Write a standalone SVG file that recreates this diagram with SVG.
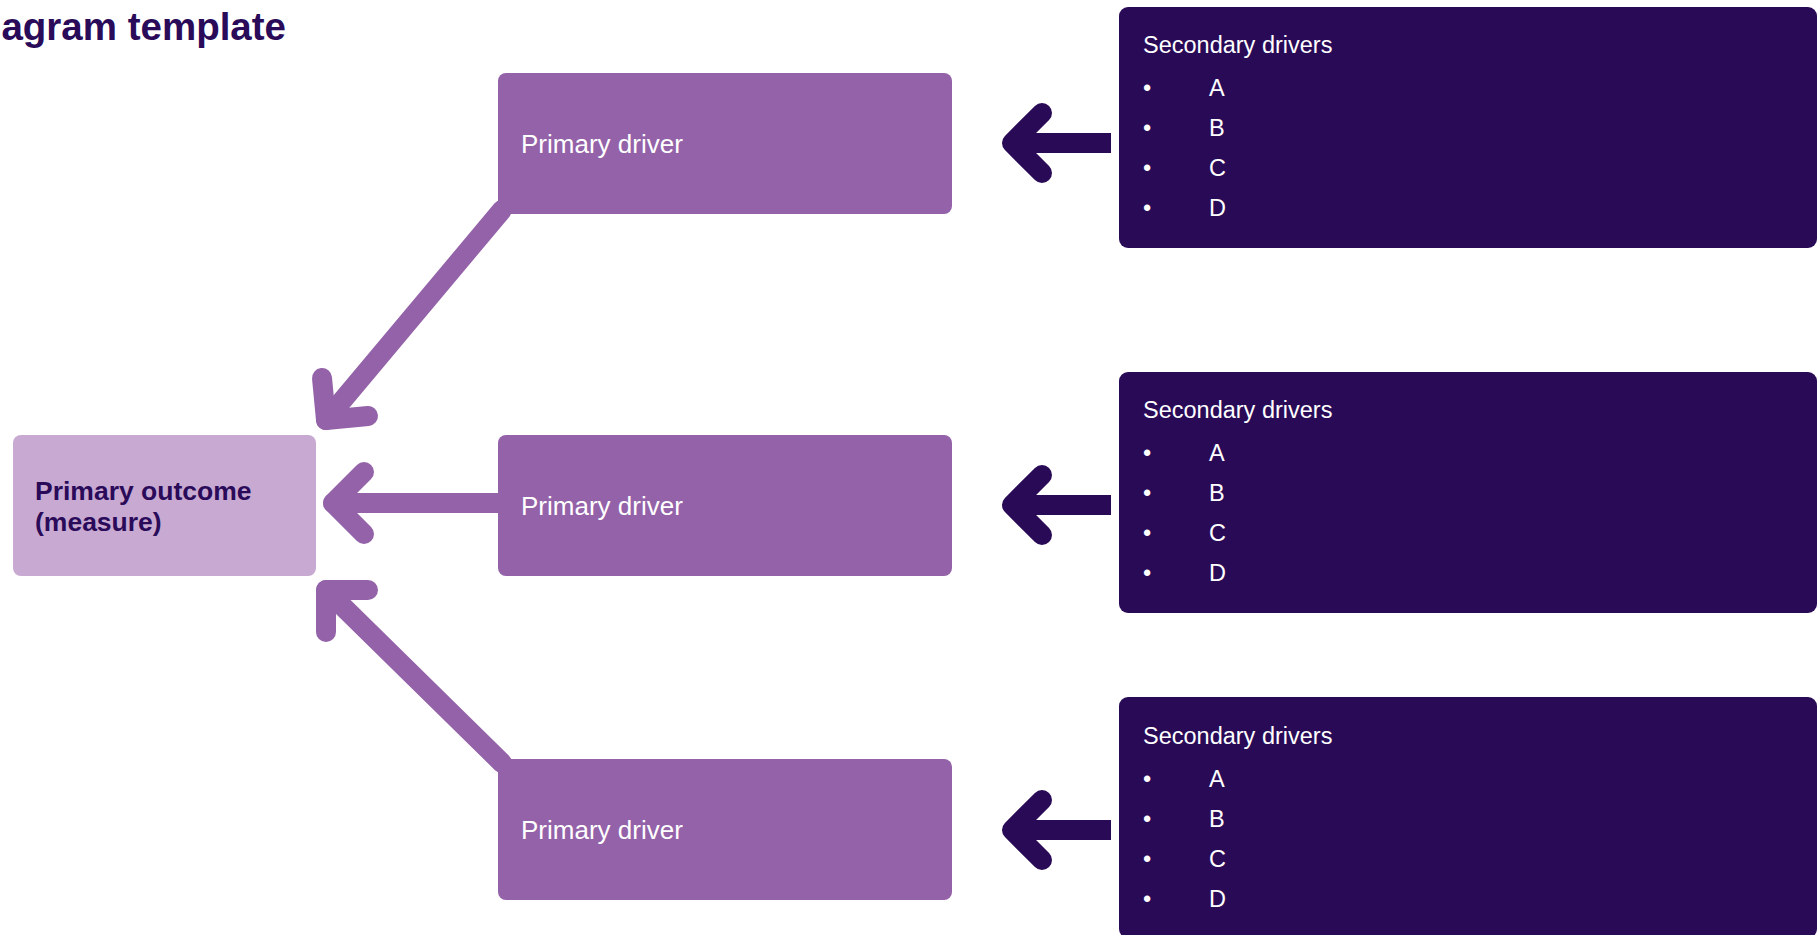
<svg xmlns="http://www.w3.org/2000/svg" width="1818" height="935" viewBox="0 0 1818 935">
<style>
.title{font-family:"Liberation Sans",Arial,sans-serif;font-weight:bold;font-size:38.5px;fill:#2a0b5a}
.outcome{fill:#c8a9d1}
.primary{fill:#9462a8}
.secondary{fill:#290a57}
.otext{font-family:"Liberation Sans",Arial,sans-serif;font-weight:bold;font-size:26.5px;fill:#2a0b5a}
.ptext{font-family:"Liberation Sans",Arial,sans-serif;font-size:26px;fill:#ffffff}
.stext{font-family:"Liberation Sans",Arial,sans-serif;font-size:23.5px;fill:#ffffff}
.parrow{fill:none;stroke:#9462a8;stroke-width:20;stroke-linecap:round;stroke-linejoin:round}
.darm{fill:none;stroke:#290a57;stroke-width:20;stroke-linecap:round;stroke-linejoin:round}
.dshaft{fill:none;stroke:#290a57;stroke-width:20;stroke-linecap:butt}
</style>
<rect width="1818" height="935" fill="#ffffff"/>
<text class="title" x="286" y="40" text-anchor="end">agram template</text>

<g id="connectors">
  <path class="parrow" d="M502,210 L326,420"/>
  <path class="parrow" d="M368,416 L326,420 L322,378"/>
  <path class="parrow" d="M500,503 L333,503"/>
  <path class="parrow" d="M364,472 L333,503 L364,534"/>
  <path class="parrow" d="M502,763 L326,590"/>
  <path class="parrow" d="M326,632 L326,590 L368,590"/>
  <line class="dshaft" x1="1014" y1="143" x2="1111" y2="143"/>
  <path class="darm" d="M1042,113 L1012,143 L1042,173"/>
  <line class="dshaft" x1="1014" y1="505" x2="1111" y2="505"/>
  <path class="darm" d="M1042,475 L1012,505 L1042,535"/>
  <line class="dshaft" x1="1014" y1="830" x2="1111" y2="830"/>
  <path class="darm" d="M1042,800 L1012,830 L1042,860"/>
</g>

<g id="outcome">
  <rect class="outcome" x="13" y="435" width="303" height="141" rx="8"/>
  <text class="otext" x="35" y="500">Primary outcome</text>
  <text class="otext" x="35" y="531">(measure)</text>
</g>

<g id="primary1">
  <rect class="primary" x="498" y="73" width="454" height="141" rx="8"/>
  <text class="ptext" x="521" y="153">Primary driver</text>
</g>
<g id="primary2">
  <rect class="primary" x="498" y="435" width="454" height="141" rx="8"/>
  <text class="ptext" x="521" y="515">Primary driver</text>
</g>
<g id="primary3">
  <rect class="primary" x="498" y="759" width="454" height="141" rx="8"/>
  <text class="ptext" x="521" y="839">Primary driver</text>
</g>

<g id="secondary1">
  <rect class="secondary" x="1119" y="7" width="698" height="241" rx="9"/>
  <text class="stext" x="1143" y="53">Secondary drivers</text>
  <text class="stext" x="1143" y="96">•</text><text class="stext" x="1209" y="96">A</text>
  <text class="stext" x="1143" y="136">•</text><text class="stext" x="1209" y="136">B</text>
  <text class="stext" x="1143" y="176">•</text><text class="stext" x="1209" y="176">C</text>
  <text class="stext" x="1143" y="216">•</text><text class="stext" x="1209" y="216">D</text>
</g>
<g id="secondary2">
  <rect class="secondary" x="1119" y="372" width="698" height="241" rx="9"/>
  <text class="stext" x="1143" y="418">Secondary drivers</text>
  <text class="stext" x="1143" y="461">•</text><text class="stext" x="1209" y="461">A</text>
  <text class="stext" x="1143" y="501">•</text><text class="stext" x="1209" y="501">B</text>
  <text class="stext" x="1143" y="541">•</text><text class="stext" x="1209" y="541">C</text>
  <text class="stext" x="1143" y="581">•</text><text class="stext" x="1209" y="581">D</text>
</g>
<g id="secondary3">
  <rect class="secondary" x="1119" y="697" width="698" height="241" rx="9"/>
  <text class="stext" x="1143" y="744">Secondary drivers</text>
  <text class="stext" x="1143" y="787">•</text><text class="stext" x="1209" y="787">A</text>
  <text class="stext" x="1143" y="827">•</text><text class="stext" x="1209" y="827">B</text>
  <text class="stext" x="1143" y="867">•</text><text class="stext" x="1209" y="867">C</text>
  <text class="stext" x="1143" y="907">•</text><text class="stext" x="1209" y="907">D</text>
</g>
</svg>
